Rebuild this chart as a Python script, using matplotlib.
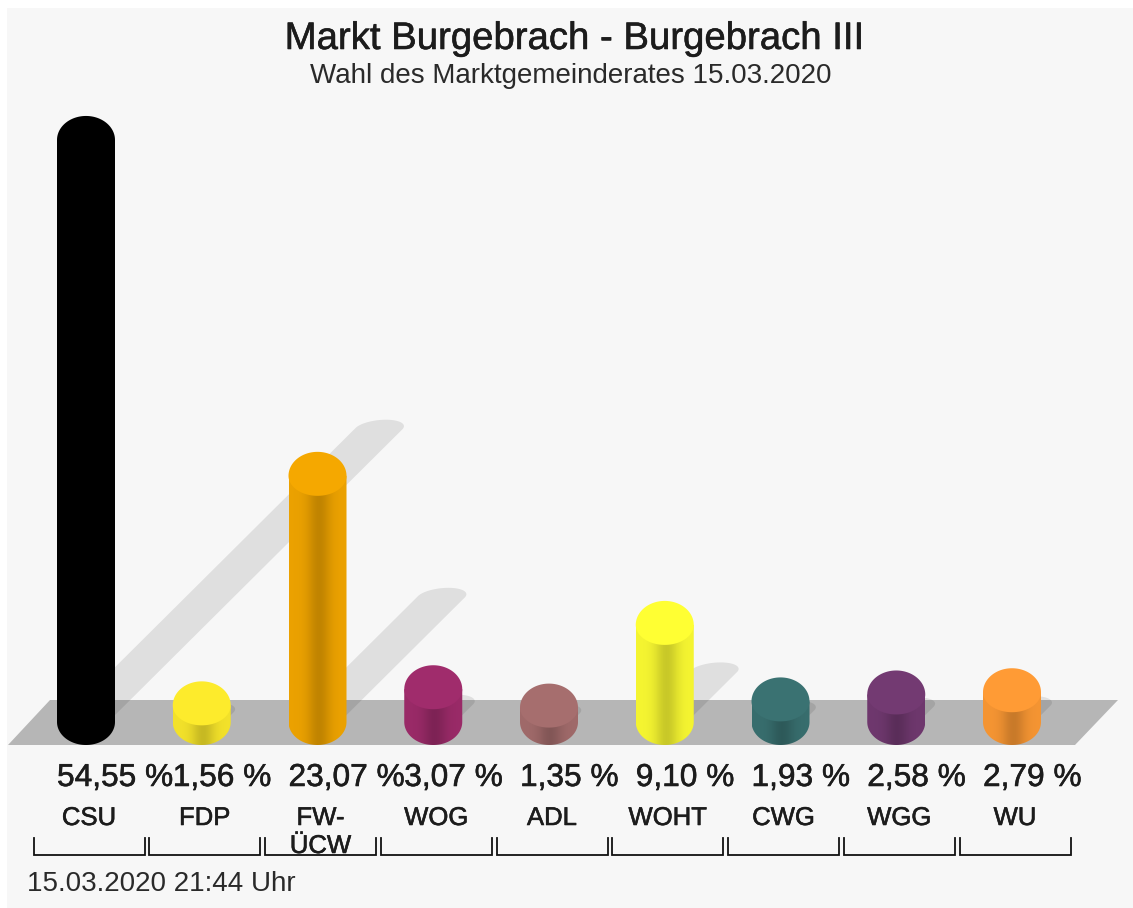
import numpy as np
import matplotlib
matplotlib.use("Agg")
import matplotlib.pyplot as plt
import matplotlib.patheffects as pe
from matplotlib.patches import Polygon, PathPatch, Rectangle
from matplotlib.path import Path

plt.rcParams['font.family'] = ['Liberation Sans', 'DejaVu Sans']

title = "Markt Burgebrach - Burgebrach III"
subtitle = "Wahl des Marktgemeinderates 15.03.2020"
timestamp = "15.03.2020 21:44 Uhr"
parties = ["CSU", "FDP", "FW-\nÜCW", "WOG", "ADL", "WOHT", "CWG", "WGG", "WU"]
shares = [54.55, 1.56, 23.07, 3.07, 1.35, 9.10, 1.93, 2.58, 2.79]
value_labels = ["54,55 %", "1,56 %", "23,07 %", "3,07 %", "1,35 %", "9,10 %", "1,93 %", "2,58 %", "2,79 %"]
colors = ["#000000", "#fdeb2c", "#f5a800", "#a02c6c", "#a66e6e", "#ffff33", "#3a7272", "#733a72", "#ff9b35"]

W, H = 1133, 908
PX_X = 115.75      # pixels per category
PX_Y = 10.67       # pixels per percentage point
X0, Y0 = 86, 722   # pixel of category 0 / value 0

fig = plt.figure(figsize=(W / 100, H / 100), dpi=100, facecolor="white")
ax = fig.add_axes([0, 0, 1, 1])
ax.set_axis_off()
xlim = (-X0 / PX_X, (W - X0) / PX_X)
ylim = ((Y0 - H) / PX_Y, Y0 / PX_Y)


def dx(p):
    return p / PX_X


def dy(p):
    return p / PX_Y


def yp(p):
    return (Y0 - p) / PX_Y


half_w = dx(29)

# chart background
ax.add_patch(Rectangle((dx(7 - X0), yp(H)), dx(W - 7), dy(H - 8), fc="#f7f7f7", ec="none", zorder=0))

# floor
ax.add_patch(Polygon([(dx(8 - X0), yp(745)), (dx(1075 - X0), yp(745)),
                      (dx(1118 - X0), yp(700)), (dx(50 - X0), yp(700))],
                     closed=True, fc="#b6b6b6", ec="none", zorder=1))


def cross(o, a, b):
    return (a[0] - o[0]) * (b[1] - o[1]) - (a[1] - o[1]) * (b[0] - o[0])


def hull_of(points):
    P = points[np.lexsort((points[:, 1], points[:, 0]))]
    lo, up = [], []
    for p in P:
        while len(lo) >= 2 and cross(lo[-2], lo[-1], p) <= 0:
            lo.pop()
        lo.append(p)
    for p in P[::-1]:
        while len(up) >= 2 and cross(up[-2], up[-1], p) <= 0:
            up.pop()
        up.append(p)
    return np.array(lo[:-1] + up[:-1])


# shadows: a sheared stadium running up and to the right from each bar
t = np.linspace(0, 2 * np.pi, 120)
for i, v in enumerate(shares):
    ex = 24 * np.cos(t) + 7 * np.sin(t)
    ey = 9 * np.sin(t) + 2
    base = np.c_[ex, ey]
    end = np.c_[ex + 5.37 * v, ey + 5.34 * v]
    hull = hull_of(np.vstack([base, end]))
    ax.add_patch(Polygon(np.c_[i + dx(hull[:, 0]), dy(hull[:, 1])], closed=True,
                         fc="#000000", alpha=0.095, ec="none", zorder=2))

# bars
u = np.linspace(0, 1, 120)
shade = 1 - 0.18 * np.exp(-((u - 0.52) / 0.2) ** 2)
th_low = np.linspace(np.pi, 2 * np.pi, 60)
th_up = np.linspace(0, np.pi, 60)
for i, (v, col) in enumerate(zip(shares, colors)):
    rgb = np.array(matplotlib.colors.to_rgb(col))
    grad = (rgb[None, None, :] * 0.96 * shade[None, :, None]).clip(0, 1)
    bottom = -dy(23)
    im = ax.imshow(grad, extent=(i - half_w, i + half_w, bottom, v), aspect="auto",
                   origin="lower", zorder=3, interpolation="bilinear")
    verts = [(i - half_w, v)] + [(i + half_w * np.cos(a), dy(23) * np.sin(a)) for a in th_low] + [(i + half_w, v), (i - half_w, v)]
    clip = PathPatch(Path(verts), transform=ax.transData, fc="none", ec="none")
    ax.add_patch(clip)
    im.set_clip_path(clip)
    # the cap: taller dome above the widest line, shallower arc below it
    cap = [(i + half_w * np.cos(a), v + dy(24) * np.sin(a)) for a in th_up] + \
          [(i + half_w * np.cos(a), v + dy(20) * np.sin(a)) for a in th_low]
    ax.add_patch(Polygon(cap, closed=True, fc=col, ec="none", zorder=4))

# labels
txt = "#1c1c1c"
heavy = [pe.withStroke(linewidth=0.4, foreground=txt)]
ax.text(dx(575 - X0), yp(39), title, ha="center", va="center", fontsize=27.6, color=txt, path_effects=heavy)
ax.text(dx(571 - X0), yp(76), subtitle, ha="center", va="center", fontsize=20, color="#2a2a2a")
for i, (lab, name) in enumerate(zip(value_labels, parties)):
    ax.text(i - half_w, yp(778), lab, ha="left", va="center", fontsize=22.8, color=txt, path_effects=heavy)
    ax.text(i + dx(3), yp(818), name.split("\n")[0], ha="center", va="center", fontsize=18.5, color=txt, path_effects=heavy)
    if "\n" in name:
        ax.text(i + dx(3), yp(846), name.split("\n")[1], ha="center", va="center", fontsize=18.5, color=txt, path_effects=heavy)
    xl, xr = i + dx(3 - 55.5), i + dx(3 + 55.5)
    ax.plot([xl, xl, xr, xr], [yp(838), yp(855), yp(855), yp(838)], color="#111111", lw=1.3, zorder=5,
            solid_joinstyle="miter")
ax.text(dx(27 - X0), yp(884), timestamp, ha="left", va="center", fontsize=20, color="#2a2a2a")

ax.set_xlim(*xlim)
ax.set_ylim(*ylim)
fig.savefig("out.png", dpi=100, facecolor=fig.get_facecolor())
